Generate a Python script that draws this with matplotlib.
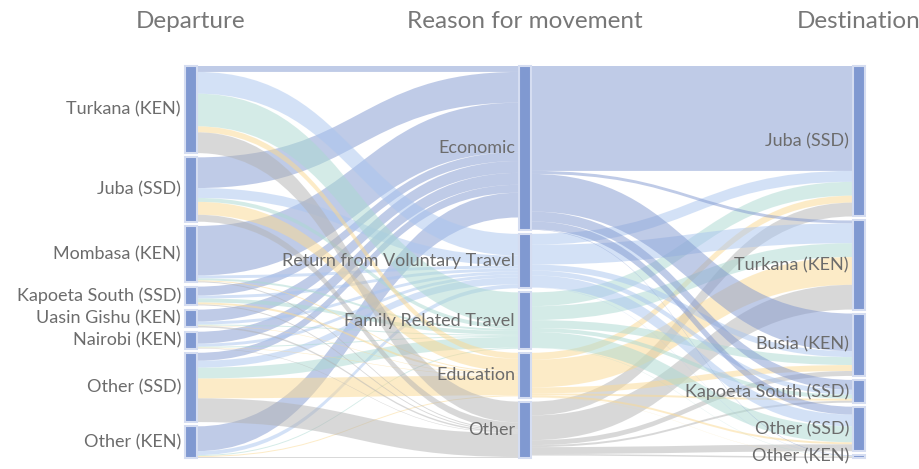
import matplotlib

matplotlib.use("Agg")
import matplotlib.pyplot as plt
from matplotlib.path import Path
from matplotlib.patches import PathPatch, Rectangle

# Node names per column
departures = ["Turkana (KEN)", "Juba (SSD)", "Mombasa (KEN)", "Kapoeta South (SSD)",
              "Uasin Gishu (KEN)", "Nairobi (KEN)", "Other (SSD)", "Other (KEN)"]
reasons = ["Economic", "Return from Voluntary Travel", "Family Related Travel",
           "Education", "Other"]
destinations = ["Juba (SSD)", "Turkana (KEN)", "Busia (KEN)", "Kapoeta South (SSD)",
                "Other (SSD)", "Other (KEN)"]
column_titles = ["Departure", "Reason for movement", "Destination"]

# Flows departure -> reason (rows follow departures, columns follow reasons)
departure_reason = [
    [6, 22, 33, 6, 21],
    [31, 10, 4, 13, 7],
    [50, 3, 2, 1, 1],
    [9, 3, 4, 2, 1],
    [12, 3, 1, 0.5, 1.5],
    [12, 3, 1, 0.5, 0.5],
    [8, 7, 11, 20, 24],
    [25, 4, 1, 1, 1],
]

# Flows reason -> destination (rows follow reasons, columns follow destinations)
reason_destination = [
    [106, 3, 38, 10, 8, 0.5],
    [11, 20, 6, 5, 12, 0.3],
    [14, 14, 8, 4, 16, 0.3],
    [7, 28, 6, 2, 2, 0.2],
    [14, 25, 5, 2, 7, 1.5],
]

reason_colors = ["#8198d0", "#a9c5ef", "#abd9d1", "#fbd991", "#b3b3b3"]
node_color = "#8099d1"
node_edge = "#d5ddf1"
text_color = "#6c6c6c"

W, H = 920, 469
col_x = [185, 519, 853]
node_w = 12
top, bottom = 66, 458
pad = 4

plt.rcParams["font.family"] = ["Lato", "DejaVu Sans"]

fig = plt.figure(figsize=(W / 100, H / 100), dpi=100)
ax = fig.add_axes([0, 0, 1, 1])
ax.set_xlim(0, W)
ax.set_ylim(H, 0)
ax.axis("off")

# node values: the larger of inflow and outflow
n_dep, n_rea, n_dst = len(departures), len(reasons), len(destinations)
dep_vals = [sum(r) for r in departure_reason]
rea_in = [sum(departure_reason[i][j] for i in range(n_dep)) for j in range(n_rea)]
rea_out = [sum(r) for r in reason_destination]
rea_vals = [max(a, b) for a, b in zip(rea_in, rea_out)]
dst_vals = [sum(reason_destination[i][j] for i in range(n_rea)) for j in range(n_dst)]
columns = [dep_vals, rea_vals, dst_vals]

span = bottom - top
ky = min((span - (len(v) - 1) * pad) / sum(v) for v in columns)


def stack(values):
    heights = [v * ky for v in values]
    gap = (span - sum(heights)) / (len(values) - 1)
    ys, y = [], top
    for h in heights:
        ys.append(y)
        y += h + gap
    return ys, heights


layout = [stack(v) for v in columns]


def draw_link(x0, x1, ys, yt, w, color):
    xm = (x0 + x1) / 2
    verts = [(x0, ys), (xm, ys), (xm, yt), (x1, yt),
             (x1, yt + w), (xm, yt + w), (xm, ys + w), (x0, ys + w), (x0, ys)]
    codes = [Path.MOVETO, Path.CURVE4, Path.CURVE4, Path.CURVE4,
             Path.LINETO, Path.CURVE4, Path.CURVE4, Path.CURVE4, Path.CLOSEPOLY]
    ax.add_patch(PathPatch(Path(verts, codes), facecolor=color, alpha=0.5,
                           edgecolor="none", zorder=1))


def draw_stage(matrix, src_col, dst_col, color_of):
    src_y, _ = layout[src_col]
    dst_y, _ = layout[dst_col]
    n_src, n_dst_ = len(matrix), len(matrix[0])
    src_off = list(src_y)
    dst_off = list(dst_y)
    # outgoing stacked by target order, incoming stacked by source order
    starts = {}
    for i in range(n_src):
        for j in range(n_dst_):
            starts[(i, j)] = src_off[i]
            src_off[i] += matrix[i][j] * ky
    for j in range(n_dst_):
        for i in range(n_src):
            w = matrix[i][j] * ky
            draw_link(col_x[src_col] + node_w, col_x[dst_col], starts[(i, j)],
                      dst_off[j], w, color_of(i, j))
            dst_off[j] += w


draw_stage(departure_reason, 0, 1, lambda i, j: reason_colors[j])
draw_stage(reason_destination, 1, 2, lambda i, j: reason_colors[i])

# node bars and labels
label_sets = [departures, reasons, destinations]
for c, (ys, hs) in enumerate(layout):
    for name, y, h in zip(label_sets[c], ys, hs):
        ax.add_patch(Rectangle((col_x[c], y), node_w, h, facecolor=node_color,
                               edgecolor=node_edge, linewidth=1.5, zorder=3))
        ax.text(col_x[c] - 4, y + h / 2, name, ha="right", va="center",
                fontsize=13, color=text_color, zorder=4)
    ax.text(col_x[c] + node_w / 2, 22, column_titles[c], ha="center", va="center",
            fontsize=17.5, color="#777777")

fig.savefig("out.png", dpi=100)
